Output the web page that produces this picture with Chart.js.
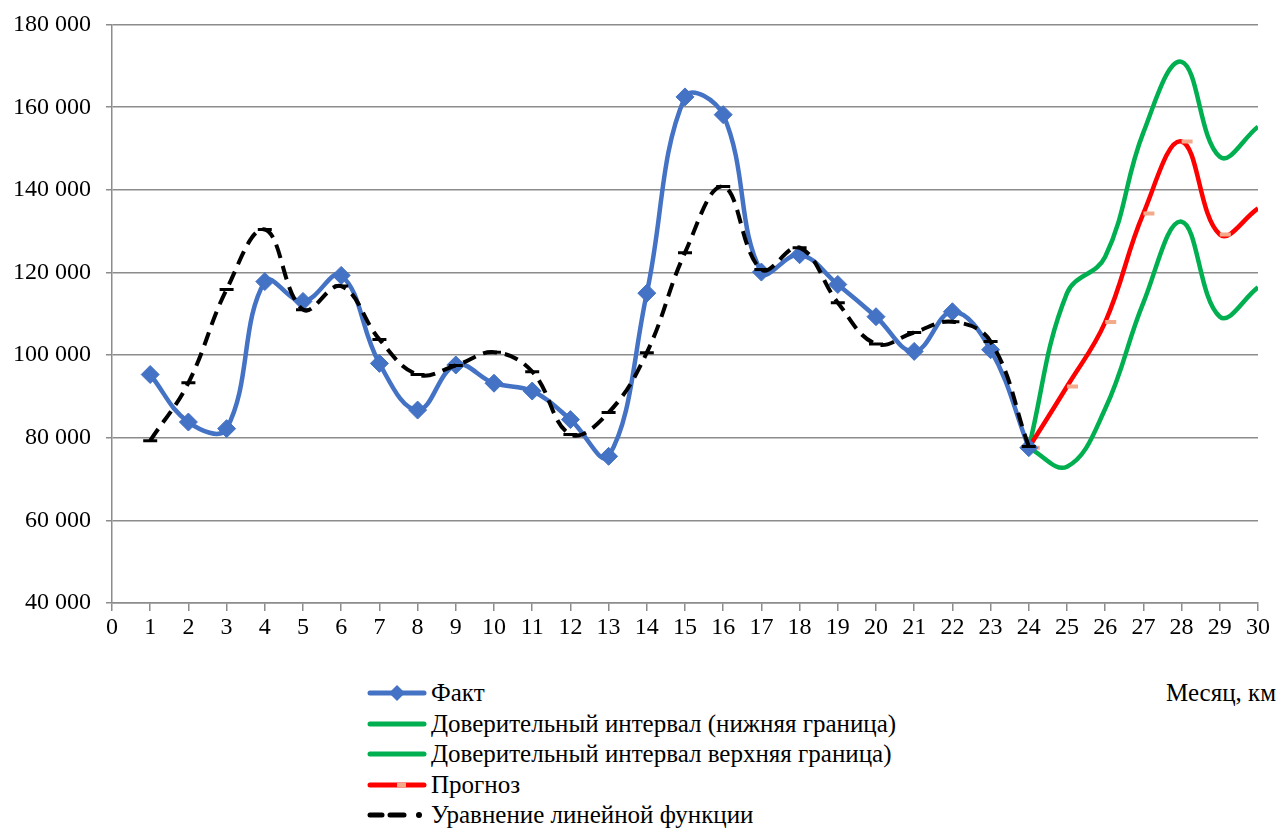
<!DOCTYPE html>
<html>
<head>
<meta charset="utf-8">
<style>
  body { margin: 0; background: #fff; }
  #wrap { position: relative; width: 1281px; height: 830px; font-family: 'Liberation Serif'; }
  #chart { position: absolute; left: 0; top: 0; }
  .legend { position: absolute; left: 366px; top: 678px; font-family: 'Liberation Serif'; }
  .legend-row { height: 30.5px; display: flex; align-items: center; font-size: 25px; color: #000; white-space: nowrap; }
  .legend-row svg { margin-right: 3px; flex: none; }
  .axis-title { position: absolute; left: 1166px; top: 678px; font-family: 'Liberation Serif'; font-size: 25px; height: 30px; line-height: 30px; white-space: nowrap; }
</style>
<script src="https://cdn.jsdelivr.net/npm/chart.js@4"></script>
</head>
<body>
<div id="wrap">
  <canvas id="chart" width="1281" height="660"></canvas>
  <div class="legend" id="legend"></div>
  <div class="axis-title">Месяц, км</div>
</div>
<script>
// ── Data ───────────────────────────────────────────────────────────

const FACT_X = [1, 2, 3, 4, 5, 6, 7, 8, 9, 10, 11, 12, 13, 14, 15, 16, 17, 18, 19, 20, 21, 22, 23, 24];
const FACT_Y = [95300, 83800, 82200, 117800, 113000, 119300, 98000, 86700, 97600, 93200, 91300, 84400,
                75500, 115000, 162500, 158200, 120100, 124300, 117100, 109300, 100900, 110500, 101300, 77600];

const TREND_Y = [79300, 93300, 115900, 130400, 111000, 116700, 103800, 95300, 97500, 100700, 96000, 80800,
                 86100, 100600, 124800, 140800, 120700, 126000, 112700, 102700, 105500, 108100, 103300, 77900];

const FORECAST_X = [24, 25, 26, 27, 28, 29, 30];
const FORECAST_Y = [77600, 92400, 108000, 134300, 151700, 129200, 135500];
const LOWER_Y    = [77600, 73000, 87000, 112700, 132300, 109300, 116400];
const UPPER_Y    = [77600, 115000, 123800, 153900, 171000, 148000, 155300];

const X_MIN = 0, X_MAX = 30;
const Y_MIN = 40000, Y_MAX = 180000, Y_STEP = 20000;

const LABELS = {
  fact: 'Факт',
  lower: 'Доверительный интервал (нижняя граница)',
  upper: 'Доверительный интервал верхняя граница)',
  forecast: 'Прогноз',
  trend: 'Уравнение линейной функции',
};

// ── Styles ─────────────────────────────────────────────────────────

const BLUE = '#4472C4';
const GREEN = '#00B050';
const RED = '#FF0000';
const SALMON = '#F4A98A';
const GRID = '#8c8c8c';
const SERIF = "'Liberation Serif'";

Chart.defaults.font.family = SERIF;

const pts = (xs, ys) => xs.map((x, i) => ({ x, y: ys[i] }));
const spaced = v => String(v).replace(/\B(?=(\d{3})+(?!\d))/g, ' ');

// ── Chart ──────────────────────────────────────────────────────────

new Chart(document.getElementById('chart'), {
  type: 'line',
  data: {
    datasets: [
      {
        label: LABELS.fact, data: pts(FACT_X, FACT_Y), order: 1,
        borderColor: BLUE, borderWidth: 4.5, tension: 0.4,
        pointStyle: 'rectRot', pointRadius: 9, pointBackgroundColor: BLUE, pointBorderColor: BLUE, pointBorderWidth: 1,
      },
      {
        label: LABELS.lower, data: pts(FORECAST_X, LOWER_Y), order: 3,
        borderColor: GREEN, borderWidth: 4.5, tension: 0.4, pointRadius: 0,
      },
      {
        label: LABELS.upper, data: pts(FORECAST_X, UPPER_Y), order: 3,
        borderColor: GREEN, borderWidth: 4.5, tension: 0.4, pointRadius: 0,
      },
      {
        label: LABELS.forecast, data: pts(FORECAST_X, FORECAST_Y), order: 2,
        borderColor: RED, borderWidth: 4.5, tension: 0.4,
        pointStyle: 'dash', pointRadius: 11, pointBorderColor: SALMON, pointBorderWidth: 4,
      },
      {
        label: LABELS.trend, data: pts(FACT_X, TREND_Y), order: 0,
        borderColor: '#000', borderWidth: 4, borderDash: [14, 8], tension: 0.4,
        pointStyle: 'line', pointRadius: 7, pointBorderColor: '#000', pointBorderWidth: 3,
      },
    ],
  },
  options: {
    responsive: false,
    animation: false,
    layout: { padding: { top: 20, right: 23, left: 0, bottom: 0 } },
    plugins: { legend: { display: false }, tooltip: { enabled: false } },
    scales: {
      x: {
        type: 'linear', min: X_MIN, max: X_MAX,
        ticks: { stepSize: 1, color: '#000', font: { family: SERIF, size: 24 }, padding: 2, maxRotation: 0, autoSkip: false },
        grid: { drawOnChartArea: false, drawTicks: true, tickLength: 8, color: GRID, lineWidth: 1.5 },
        border: { color: GRID, width: 1.5 },
        afterFit: s => { s.height = 57; },
      },
      y: {
        min: Y_MIN, max: Y_MAX,
        ticks: {
          stepSize: Y_STEP, color: '#000', padding: 15,
          font: { family: SERIF, size: 24, lineHeight: 0.8 },
          callback: v => spaced(v),
        },
        grid: { color: GRID, lineWidth: 1.5, tickLength: 6 },
        border: { color: GRID, width: 1.5 },
        afterFit: s => { s.width = 112; },
      },
    },
  },
});

// ── Legend ─────────────────────────────────────────────────────────

const SAMPLES = {
  fact: `<line x1="4" y1="10" x2="58" y2="10" stroke="${BLUE}" stroke-width="5" stroke-linecap="round"/>
         <polygon points="31,2 39,10 31,18 23,10" fill="${BLUE}"/>`,
  lower: `<line x1="4" y1="10" x2="58" y2="10" stroke="${GREEN}" stroke-width="5" stroke-linecap="round"/>`,
  upper: `<line x1="4" y1="10" x2="58" y2="10" stroke="${GREEN}" stroke-width="5" stroke-linecap="round"/>`,
  forecast: `<line x1="4" y1="10" x2="58" y2="10" stroke="${RED}" stroke-width="5" stroke-linecap="round"/>
             <line x1="31" y1="10" x2="40" y2="10" stroke="${SALMON}" stroke-width="5"/>`,
  trend: `<line x1="4" y1="10" x2="16" y2="10" stroke="#000" stroke-width="5" stroke-linecap="round"/>
          <line x1="24" y1="10" x2="38" y2="10" stroke="#000" stroke-width="5" stroke-linecap="round"/>
          <circle cx="53" cy="10" r="3" fill="#000"/>`,
};

document.getElementById('legend').innerHTML = ['fact', 'lower', 'upper', 'forecast', 'trend']
  .map(k => `<div class="legend-row"><svg width="62" height="20">${SAMPLES[k]}</svg>${LABELS[k]}</div>`)
  .join('');
</script>
</body>
</html>
